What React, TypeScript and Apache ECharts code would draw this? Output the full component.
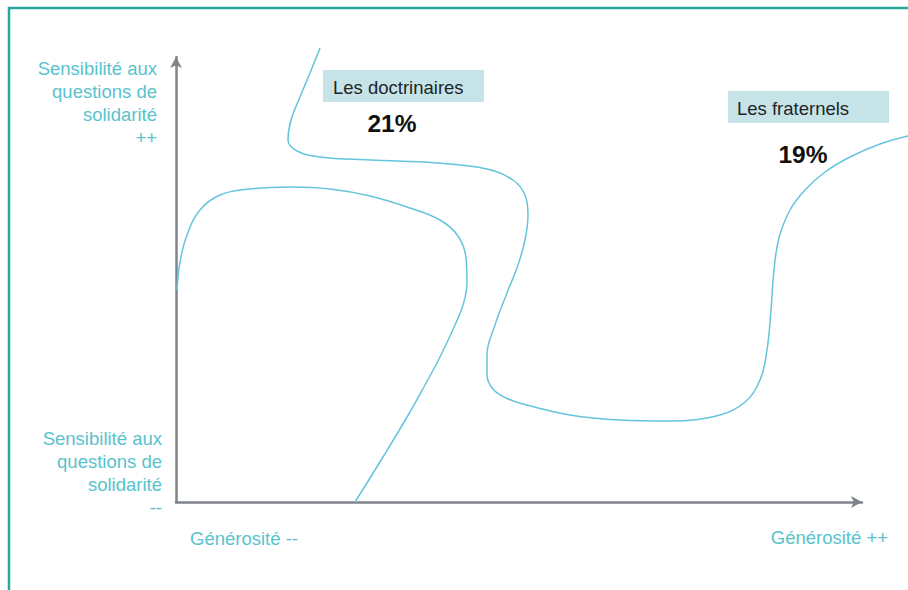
import React, { useEffect, useRef } from "react";
import * as echarts from "echarts";

// Conceptual map: x = Générosité (units right of the y axis), y = Sensibilité (units above the x axis)
const curveLeftX = [1, 4, 11, 24, 44, 74, 114, 154, 194, 234, 264, 282, 290, 291, 287, 279, 264, 249, 234, 207, 179];
const curveLeftY = [212, 240, 267, 292, 307, 313, 315, 313, 306, 294, 282, 266, 244, 219, 197, 177, 145, 117, 90, 45, 0];

const curveRightX = [144, 134, 124, 115, 112, 121, 144, 194, 261, 311, 337, 349, 352, 349, 342, 331, 319, 311, 311, 317, 330, 347, 394, 444, 494, 544, 569, 584, 591, 595, 598, 603, 614, 629, 649, 674, 704, 732];
const curveRightY = [454, 429, 405, 382, 362, 351, 345, 342, 339, 333, 322, 307, 287, 262, 237, 209, 177, 147, 127, 113, 104, 98, 87, 82, 81, 87, 100, 122, 152, 192, 232, 264, 292, 312, 330, 345, 358, 366];

const yLabelTop = ["Sensibilité aux", "questions de", "solidarité", "++"];
const yLabelBottom = ["Sensibilité aux", "questions de", "solidarité", "--"];
const xLabelLeft = "Générosité --";
const xLabelRight = "Générosité ++";
const groupNames = ["Les doctrinaires", "Les fraternels"];
const groupShares = ["21%", "19%"];

const LABEL = "#58c3cd";
const CURVE = "#66c4dc";
const AXIS = "#7f848b";
const FONT = "'Liberation Sans', Arial, Helvetica, sans-serif";

export default function App() {
  const ref = useRef<HTMLDivElement>(null);
  useEffect(() => {
    if (!ref.current) return;
    const chart = echarts.init(ref.current, null, { renderer: "svg" });
    const zip = (xs: number[], ys: number[]) => xs.map((x, i) => [x, ys[i]]);
    const hiddenAxis = {
      type: "value",
      show: false,
      axisLine: { show: false },
      axisTick: { show: false },
      axisLabel: { show: false },
      splitLine: { show: false },
    };
    const arrowAxis = {
      type: "value",
      axisLine: { show: true, lineStyle: { color: AXIS, width: 2.5 }, symbol: ["none", "arrow"], symbolSize: [9, 11] },
      axisTick: { show: false },
      axisLabel: { show: false },
      splitLine: { show: false },
    };
    chart.setOption({
      animation: false,
      backgroundColor: "#ffffff",
      grid: [
        { left: 176, top: 57, right: 46, bottom: 88 },
        { left: 176, top: 48, right: 0, bottom: 88 },
      ],
      xAxis: [
        { ...arrowAxis, gridIndex: 0, min: 0, max: 686 },
        { ...hiddenAxis, gridIndex: 1, min: 0, max: 732 },
      ],
      yAxis: [
        { ...arrowAxis, gridIndex: 0, min: 0, max: 445 },
        { ...hiddenAxis, gridIndex: 1, min: 0, max: 454 },
      ],
      series: [
        {
          type: "line",
          xAxisIndex: 1,
          yAxisIndex: 1,
          data: zip(curveLeftX, curveLeftY),
          smooth: 0.4,
          symbol: "none",
          clip: false,
          silent: true,
          lineStyle: { color: CURVE, width: 1.5 },
        },
        {
          type: "line",
          xAxisIndex: 1,
          yAxisIndex: 1,
          data: zip(curveRightX, curveRightY),
          smooth: 0.4,
          symbol: "none",
          clip: false,
          silent: true,
          lineStyle: { color: CURVE, width: 1.5 },
        },
      ],
      graphic: [
        {
          type: "rect",
          shape: { x: 9, y: 8, width: 940, height: 620 },
          style: { fill: "none", stroke: "#2aa79d", lineWidth: 2.5 },
          silent: true,
        },
        {
          type: "text",
          x: 157,
          y: 57,
          style: {
            text: yLabelTop.join("\n"),
            fill: LABEL,
            font: `18.5px ${FONT}`,
            align: "right",
            verticalAlign: "top",
            lineHeight: 23,
          },
        },
        {
          type: "text",
          x: 162,
          y: 427,
          style: {
            text: yLabelBottom.join("\n"),
            fill: LABEL,
            font: `18.5px ${FONT}`,
            align: "right",
            verticalAlign: "top",
            lineHeight: 23,
          },
        },
        {
          type: "text",
          x: 190,
          y: 538,
          style: { text: xLabelLeft, fill: LABEL, font: `18.5px ${FONT}`, align: "left", verticalAlign: "middle" },
        },
        {
          type: "text",
          x: 888,
          y: 537,
          style: { text: xLabelRight, fill: LABEL, font: `18.5px ${FONT}`, align: "right", verticalAlign: "middle" },
        },
        {
          type: "rect",
          shape: { x: 323, y: 70, width: 161, height: 32 },
          style: { fill: "#c6e4e7" },
        },
        {
          type: "text",
          x: 333,
          y: 87,
          style: { text: groupNames[0], fill: "#1e2427", font: `18.5px ${FONT}`, align: "left", verticalAlign: "middle" },
        },
        {
          type: "text",
          x: 392,
          y: 123,
          style: { text: groupShares[0], fill: "#111111", font: `bold 24.5px ${FONT}`, align: "center", verticalAlign: "middle" },
        },
        {
          type: "rect",
          shape: { x: 728, y: 91, width: 161, height: 32 },
          style: { fill: "#c6e4e7" },
        },
        {
          type: "text",
          x: 737,
          y: 108,
          style: { text: groupNames[1], fill: "#1e2427", font: `18.5px ${FONT}`, align: "left", verticalAlign: "middle" },
        },
        {
          type: "text",
          x: 803,
          y: 154,
          style: { text: groupShares[1], fill: "#111111", font: `bold 24.5px ${FONT}`, align: "center", verticalAlign: "middle" },
        },
      ],
    });
    return () => chart.dispose();
  }, []);
  return (
    <div
      ref={ref}
      style={{ position: "absolute", left: 0, top: 0, width: 908, height: 590 }}
    />
  );
}
